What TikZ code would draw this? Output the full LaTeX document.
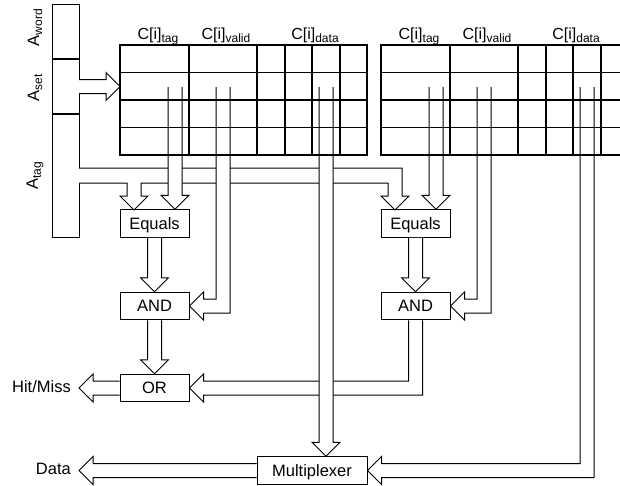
\documentclass[tikz,border=0pt]{standalone}
\usepackage{fontspec}
\setmainfont{Liberation Sans}
\usetikzlibrary{calc}
\newcommand\lsub[1]{\raisebox{-3pt}{\fontsize{12}{13}\selectfont #1}}
% block arrows: start point, tip point
\newcommand\dnarrow[2]{\path[blk] let \p1=(#1), \p2=(#2) in
  (\x2-7pt,\y1) -- (\x2-7pt,\y2+14pt) -- (\x2-14pt,\y2+14pt) -- (\x2,\y2) --
  (\x2+14pt,\y2+14pt) -- (\x2+7pt,\y2+14pt) -- (\x2+7pt,\y1);}
\newcommand\dlarrow[2]{\path[blk] let \p1=(#1), \p2=(#2) in
  (\x1-7pt,\y1) -- (\x1-7pt,\y2+7pt) -- (\x2+14pt,\y2+7pt) -- (\x2+14pt,\y2+14pt) --
  (\x2,\y2) -- (\x2+14pt,\y2-14pt) -- (\x2+14pt,\y2-7pt) -- (\x1+7pt,\y2-7pt) -- (\x1+7pt,\y1);}
\newcommand\larrow[2]{\path[blk] let \p1=(#1), \p2=(#2) in
  (\x1,\y2+7pt) -- (\x2+14pt,\y2+7pt) -- (\x2+14pt,\y2+14pt) -- (\x2,\y2) --
  (\x2+14pt,\y2-14pt) -- (\x2+14pt,\y2-7pt) -- (\x1,\y2-7pt);}
\newcommand\rarrow[2]{\path[blk] let \p1=(#1), \p2=(#2) in
  (\x1,\y2+7pt) -- (\x2-14pt,\y2+7pt) -- (\x2-14pt,\y2+14pt) -- (\x2,\y2) --
  (\x2-14pt,\y2-14pt) -- (\x2-14pt,\y2-7pt) -- (\x1,\y2-7pt);}
\begin{document}
\begin{tikzpicture}[x=1pt,y=-1pt,
  blk/.style={fill=white,draw=black,line width=1pt,line join=miter},
  box/.style={draw,line width=1pt,inner sep=0pt,minimum width=69pt,minimum height=27.5pt,
    text height=11.8pt,text depth=0pt,font=\fontsize{16.5}{18}\selectfont},
  lbl/.style={inner sep=0pt,font=\fontsize{16.5}{18}\selectfont},
  clbl/.style={inner sep=0pt,anchor=base,font=\fontsize{16}{18}\selectfont},
  grid/.style={line width=1.35pt},
  gridthick/.style={line width=1.8pt}]
\useasboundingbox (0,0) rectangle (620,485);

% address register
\node[draw,line width=1pt,minimum width=27pt,minimum height=233pt,inner sep=0pt] (reg) at (65.5,120.5) {};
\draw[line width=1.6pt] (52,59) -- (79,59) (52,114) -- (79,114);
\node[lbl,rotate=90] (aword) at (35,27.5) {A\lsub{word}};
\node[lbl,rotate=90] (aset) at (35,87.5) {A\lsub{set}};
\node[lbl,rotate=90] (atag) at (35,175.5) {A\lsub{tag}};

% column labels
\foreach \o/\n in {0/L,261/R}{
  \node[clbl] (ctag\n) at (158+\o,39) {C[i]\lsub{tag}};
  \node[clbl] (cval\n) at (226+\o,39) {C[i]\lsub{valid}};
  \node[clbl] (cdat\n) at (315+\o,39) {C[i]\lsub{data}};
}

% logic boxes
\node[box] (eqL) at (154.5,223.5) {Equals};
\node[box] (eqR) at (415.5,223.5) {Equals};
\node[box] (andL) at (154.5,306) {AND};
\node[box] (andR) at (415.5,306) {AND};
\node[box] (orb) at (154.5,388) {OR};
\node[box,minimum width=110pt] (mux) at (312,470.5) {Multiplexer};
\node[lbl,anchor=base east] (hitlbl) at (71,392) {Hit/Miss};
\node[lbl,anchor=base east] (datalbl) at (71,474) {Data};

% named points
\coordinate (setout) at (79,86.5);
\coordinate (setin) at (120,86.5);
\coordinate (tagsrc) at (79,175.5);
\coordinate (tagL) at (134,210);
\coordinate (tagR) at (395,210);
\coordinate (tLtag) at (175,87);
\coordinate (tLval) at (223,87);
\coordinate (tLdat) at (326,87);
\coordinate (tRtag) at (436,87);
\coordinate (tRval) at (484,87);
\coordinate (tRdat) at (587,87);
\coordinate (hittip) at (79,388);
\coordinate (datatip) at (79,470.5);

% set index into the table
\rarrow{setout}{setin}

% tag bus with two branches
\path[blk] let \p1=(tagsrc), \p2=(tagL), \p3=(tagR) in
  (\x1,\y1+7.5pt) -- (\x3+7pt,\y1+7.5pt) -- (\x3+7pt,\y3+14pt) -- (\x3+14pt,\y3+14pt) --
  (\x3,\y3) -- (\x3-14pt,\y3+14pt) -- (\x3-7pt,\y3+14pt) -- (\x3-7pt,\y1-7.5pt) --
  (\x2+7pt,\y1-7.5pt) -- (\x2+7pt,\y2+14pt) -- (\x2+14pt,\y2+14pt) -- (\x2,\y2) --
  (\x2-14pt,\y2+14pt) -- (\x2-7pt,\y2+14pt) -- (\x2-7pt,\y1-7.5pt) -- (\x1,\y1-7.5pt);

% right AND to OR (under the data shaft)
\dlarrow{andR.south}{orb.east}

% outputs of the table
\dnarrow{tLtag}{eqL.north -| tLtag}
\dlarrow{tLval}{andL.east}
\dnarrow{tLdat}{mux.north -| tLdat}
\dnarrow{tRtag}{eqR.north -| tRtag}
\dlarrow{tRval}{andR.east}
\dlarrow{tRdat}{mux.east}

% logic chain
\dnarrow{eqL.south}{andL.north}
\dnarrow{eqR.south}{andR.north}
\dnarrow{andL.south}{orb.north}
\larrow{orb.west}{hittip}
\larrow{mux.west}{datatip}

% cache tables
\begin{scope}
\clip (0,0) rectangle (620,485);
\foreach \o in {0,261}{
  \draw[grid] (120+\o,45) rectangle (367+\o,155);
  \foreach \y in {72.5,100,127.5} \draw[grid] (120+\o,\y) -- (367+\o,\y);
  \foreach \x in {257,312} \draw[grid] (\x+\o,45) -- (\x+\o,155);
  \foreach \x in {189,285,340} \draw[gridthick] (\x+\o,45) -- (\x+\o,155);
}
\end{scope}
\end{tikzpicture}
\end{document}
